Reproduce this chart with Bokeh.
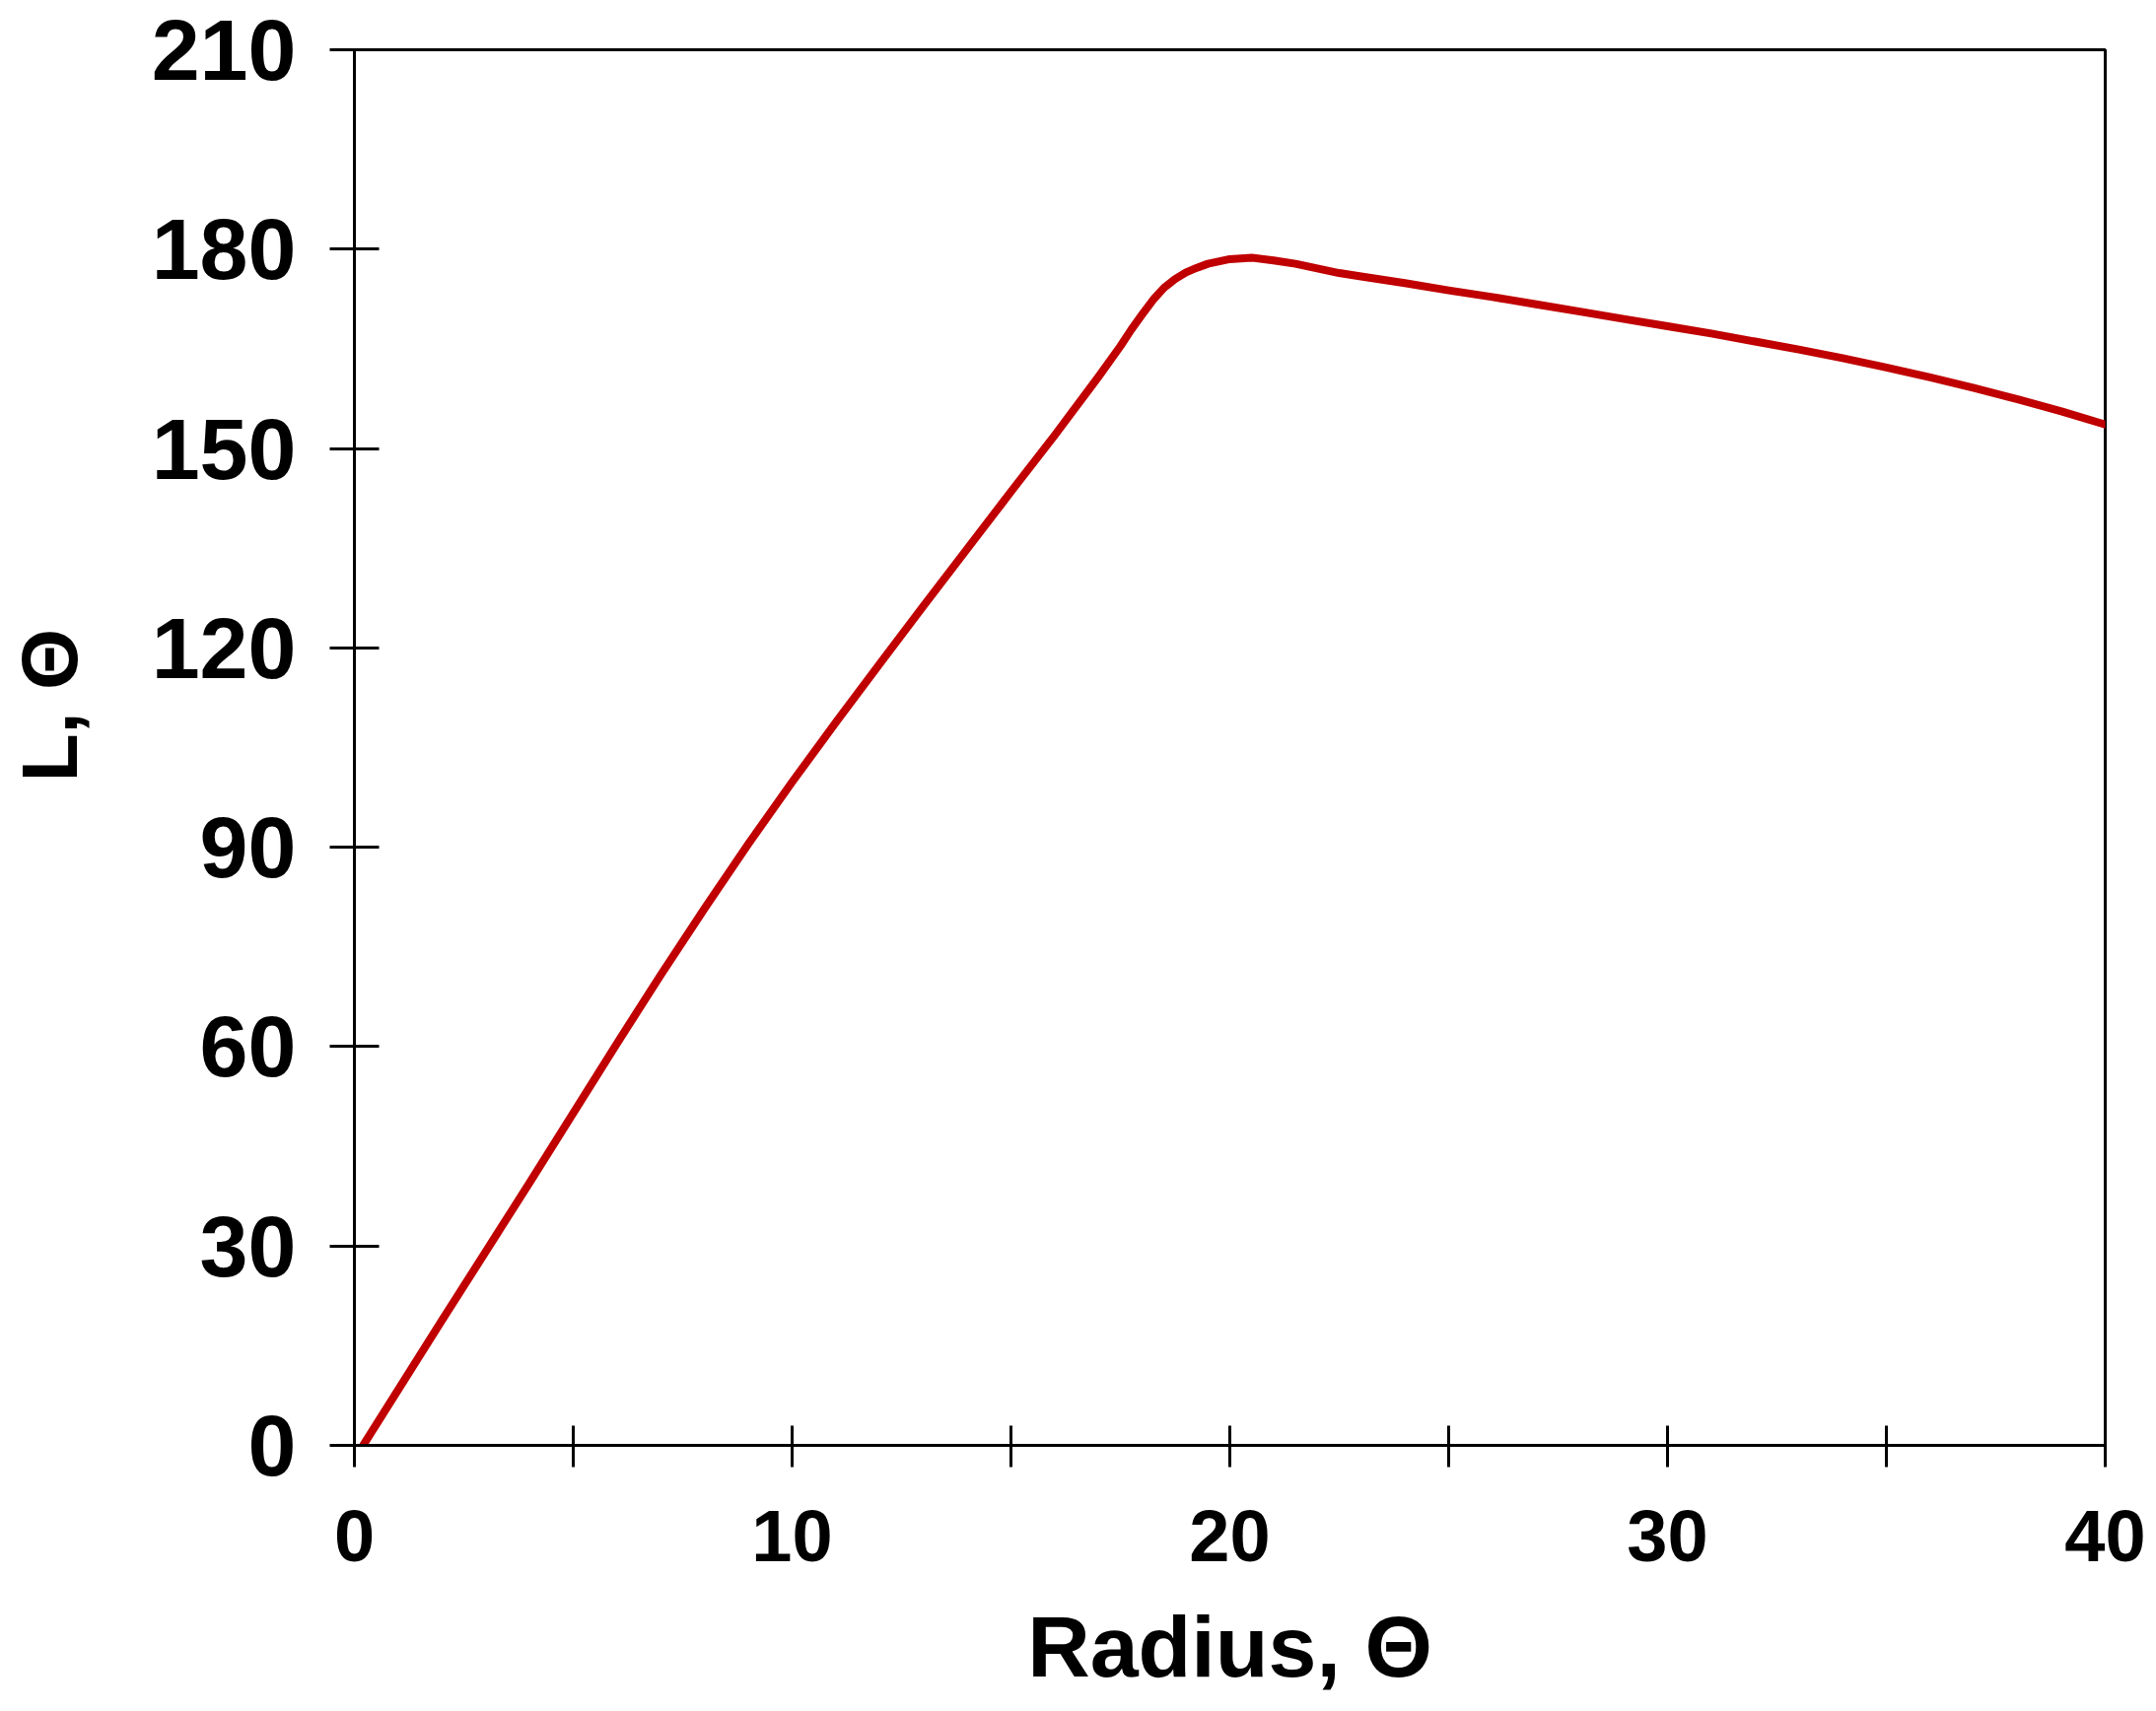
import math
from bokeh.plotting import figure
from bokeh.layouts import row
from bokeh.models import Range1d, FixedTicker, Label
from bokeh.embed import file_html
from bokeh.resources import INLINE

# Data
radius = [0.2, 2.0, 4.0, 6.0, 7.0, 8.0, 9.0, 10.0, 11.0, 12.0, 13.0, 14.0, 15.0,
          16.0, 17.0, 17.5, 17.75, 18.0, 18.25, 18.5, 18.75, 19.0, 19.25, 19.5,
          20.0, 20.5, 21.0, 21.5, 22.0, 22.5, 23.0, 24.0, 25.0, 26.0, 27.0, 28.0,
          29.0, 30.0, 31.0, 32.0, 33.0, 34.0, 35.0, 36.0, 37.0, 38.0, 39.0, 40.0]
L_vals = [0.0, 18.8, 39.5, 60.5, 70.8, 80.8, 90.5, 99.8, 108.8, 117.6, 126.3,
          134.9, 143.5, 152.0, 160.8, 165.4, 167.9, 170.2, 172.4, 174.2, 175.5,
          176.5, 177.2, 177.8, 178.5, 178.7, 178.3, 177.8, 177.1, 176.4, 175.9,
          174.9, 173.8, 172.8, 171.7, 170.6, 169.5, 168.4, 167.3, 166.1, 164.9,
          163.6, 162.2, 160.7, 159.1, 157.4, 155.6, 153.6]

x_ticks = [0, 5, 10, 15, 20, 25, 30, 35, 40]
x_tick_labels = {0: "0", 5: "", 10: "10", 15: "", 20: "20", 25: "", 30: "30", 35: "", 40: "40"}
y_ticks = [0, 30, 60, 90, 120, 150, 180, 210]

x_title = "Radius, Θ"
y_title = "L, Θ"

FONT = "Liberation Sans"
TITLE_W = 150
TOTAL_H = 1732

p = figure(frame_width=1776, frame_height=1416,
           min_border_left=359 - TITLE_W, min_border_right=44,
           min_border_top=50, min_border_bottom=TOTAL_H - 50 - 1416,
           x_range=Range1d(0, 40), y_range=Range1d(0, 210),
           output_backend="svg", toolbar_location=None,
           background_fill_color="white", border_fill_color="white")

p.line(radius, L_vals, line_color="#C00000", line_width=8, line_join="round", line_cap="round")

p.grid.visible = False
p.outline_line_color = "black"
p.outline_line_width = 3
p.outline_line_alpha = 1.0

# X axis
xa = p.xaxis[0]
xa.ticker = FixedTicker(ticks=x_ticks)
xa.major_label_overrides = dict(x_tick_labels)
xa.minor_tick_line_color = None
xa.major_tick_in = 20
xa.major_tick_out = 22
xa.major_tick_line_width = 3
xa.major_tick_line_color = "black"
xa.axis_line_width = 3
xa.axis_line_color = "black"
xa.major_label_text_font = FONT
xa.major_label_text_font_style = "bold"
xa.major_label_text_font_size = "74px"
xa.major_label_text_color = "black"
xa.major_label_standoff = 43
xa.axis_label = x_title
xa.axis_label_text_font = FONT
xa.axis_label_text_font_style = "bold"
xa.axis_label_text_font_size = "88px"
xa.axis_label_text_color = "black"
xa.axis_label_standoff = 34

# Y axis
ya = p.yaxis[0]
ya.ticker = FixedTicker(ticks=y_ticks)
ya.minor_tick_line_color = None
ya.major_tick_in = 25
ya.major_tick_out = 25
ya.major_tick_line_width = 3
ya.major_tick_line_color = "black"
ya.axis_line_width = 3
ya.axis_line_color = "black"
ya.major_label_text_font = FONT
ya.major_label_text_font_style = "bold"
ya.major_label_text_font_size = "88px"
ya.major_label_text_color = "black"
ya.major_label_standoff = 34

# Y axis title in a narrow panel to the left of the chart
tp = figure(width=TITLE_W, height=TOTAL_H, min_border=0,
            x_axis_location=None, y_axis_location=None,
            x_range=Range1d(0, TITLE_W), y_range=Range1d(0, 1416),
            output_backend="svg", toolbar_location=None,
            background_fill_color="white", border_fill_color="white")
tp.grid.visible = False
tp.outline_line_color = None
yt = Label(x=50, y=751, x_units="screen", y_units="screen", text=y_title,
           angle=math.pi / 2, text_align="center", text_baseline="alphabetic",
           text_font=FONT, text_font_style="bold", text_font_size="80px",
           text_color="black")
tp.add_layout(yt)

layout = row(tp, p, spacing=0)

open("out.html", "w").write(file_html(layout, INLINE))
